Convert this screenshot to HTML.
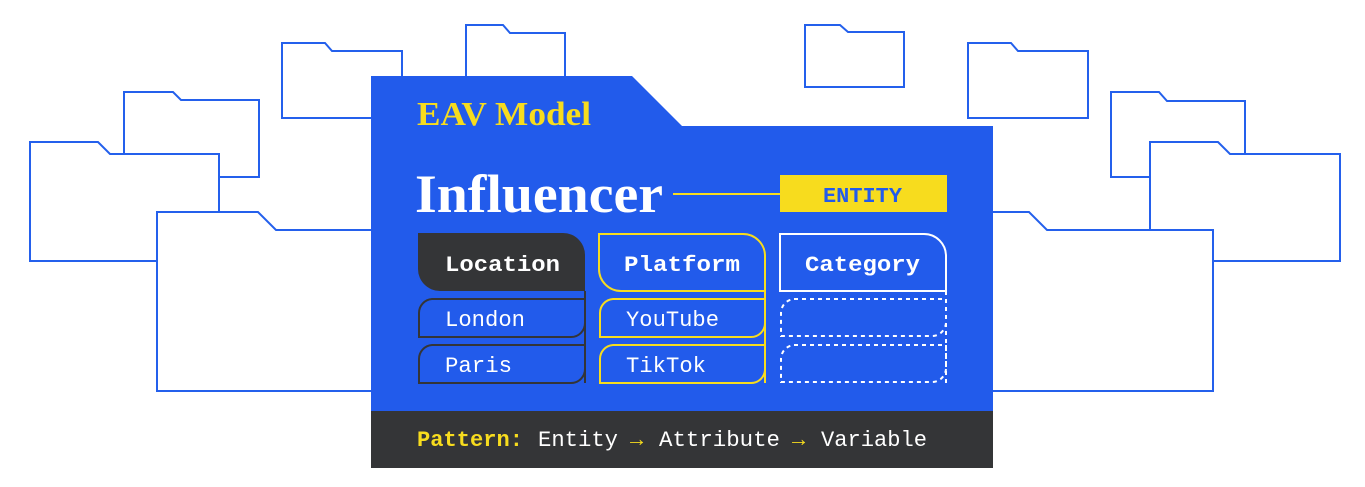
<!DOCTYPE html>
<html><head><meta charset="utf-8"><style>
html,body{margin:0;padding:0;background:#fff;}
svg{display:block;}
.mono{font-family:"Liberation Mono","DejaVu Sans Mono",monospace;}
.serif{font-family:"Liberation Serif","DejaVu Serif",serif;font-weight:bold;}
</style></head><body>
<svg width="1365" height="487" viewBox="0 0 1365 487" xmlns="http://www.w3.org/2000/svg">
<g fill="#fff" stroke="#2460EC" stroke-width="2">
<!-- left back folders -->
<path d="M124,92 H173 L181,100 H259 V177 H124 Z"/>
<path d="M30,142 H98 L110,154 H219 V261 H30 Z"/>
<path d="M157,212 H258 L276,230 H400 V391 H157 Z"/>
<path d="M282,43 H325 L332,51 H402 V118 H282 Z"/>
<path d="M466,25 H503 L510,33 H565 V110 H466 Z"/>
<path d="M805,25 H840 L848,32 H904 V87 H805 Z"/>
<!-- right folders -->
<path d="M968,43 H1011 L1018,51 H1088 V118 H968 Z"/>
<path d="M1111,92 H1159 L1167,101 H1245 V177 H1111 Z"/>
<path d="M1150,142 H1218 L1230,154 H1340 V261 H1150 Z"/>
<path d="M960,212 H1029 L1047,230 H1213 V391 H960 Z"/>
</g>
<!-- main folder -->
<path d="M371,76 H632 L682,126 H993 V411 H371 Z" fill="#225BEB"/>
<rect x="371" y="411" width="622" height="57" fill="#343537"/>
<text x="417" y="125" class="serif" font-size="34" fill="#F7DC1E" textLength="174" lengthAdjust="spacingAndGlyphs">EAV Model</text>
<text x="415" y="212" class="serif" font-size="54" fill="#fff" textLength="248" lengthAdjust="spacingAndGlyphs">Influencer</text>
<line x1="673" y1="194" x2="781" y2="194" stroke="#F7DC1E" stroke-width="2"/>
<rect x="780" y="175" width="167" height="37" fill="#F7DC1E"/>
<text x="823" y="202" class="mono" font-size="21" font-weight="bold" fill="#225BEB" textLength="79" lengthAdjust="spacingAndGlyphs">ENTITY</text>

<!-- Location column -->
<path d="M418,233 H563 A22,22 0 0 1 585,255 V291 H440 A22,22 0 0 1 418,269 Z" fill="#343537"/>
<g fill="none" stroke="#343537" stroke-width="2">
<path d="M585,291 V383"/>
<path d="M432,299 H585 V323 A14,14 0 0 1 571,337 H419 V313 A14,14 0 0 1 432,299 Z"/>
<path d="M432,345 H585 V369 A14,14 0 0 1 571,383 H419 V359 A14,14 0 0 1 432,345 Z"/>
</g>
<!-- Platform column -->
<g fill="none" stroke="#F7DC1E" stroke-width="2">
<path d="M599,234 H743 A22,22 0 0 1 765,256 V291 H621 A22,22 0 0 1 599,269 Z"/>
<path d="M765,291 V383"/>
<path d="M613,299 H765 V323 A14,14 0 0 1 751,337 H600 V313 A14,14 0 0 1 613,299 Z"/>
<path d="M613,345 H765 V369 A14,14 0 0 1 751,383 H600 V359 A14,14 0 0 1 613,345 Z"/>
</g>
<!-- Category column -->
<g fill="none" stroke="#fff" stroke-width="2">
<path d="M780,234 H924 A22,22 0 0 1 946,256 V291 H780 Z"/>
<g stroke-dasharray="4,4">
<path d="M946,291 V383"/>
<path d="M794,299 H946 V323 A14,14 0 0 1 932,336 H781 V313 A14,14 0 0 1 794,299 Z"/>
<path d="M794,345 H946 V369 A14,14 0 0 1 932,382 H781 V359 A14,14 0 0 1 794,345 Z"/>
</g>
</g>
<g class="mono" fill="#fff" font-size="22">
<text x="445" y="271" font-weight="bold" textLength="115" lengthAdjust="spacingAndGlyphs">Location</text>
<text x="624" y="271" font-weight="bold" textLength="116" lengthAdjust="spacingAndGlyphs">Platform</text>
<text x="805" y="271" font-weight="bold" textLength="115" lengthAdjust="spacingAndGlyphs">Category</text>
<text x="445" y="326" textLength="80" lengthAdjust="spacingAndGlyphs">London</text>
<text x="445" y="372" textLength="67" lengthAdjust="spacingAndGlyphs">Paris</text>
<text x="626" y="326" textLength="93" lengthAdjust="spacingAndGlyphs">YouTube</text>
<text x="626" y="372" textLength="80" lengthAdjust="spacingAndGlyphs">TikTok</text>
</g>
<g class="mono" font-size="22">
<text x="417" y="446" fill="#F7DC1E" font-weight="bold" textLength="106" lengthAdjust="spacingAndGlyphs">Pattern:</text>
<text x="538" y="446" fill="#fff" textLength="80" lengthAdjust="spacingAndGlyphs">Entity</text>
<text x="630" y="446" fill="#F7DC1E">→</text>
<text x="659" y="446" fill="#fff" textLength="121" lengthAdjust="spacingAndGlyphs">Attribute</text>
<text x="792" y="446" fill="#F7DC1E">→</text>
<text x="821" y="446" fill="#fff" textLength="106" lengthAdjust="spacingAndGlyphs">Variable</text>
</g>
</svg>
</body></html>
